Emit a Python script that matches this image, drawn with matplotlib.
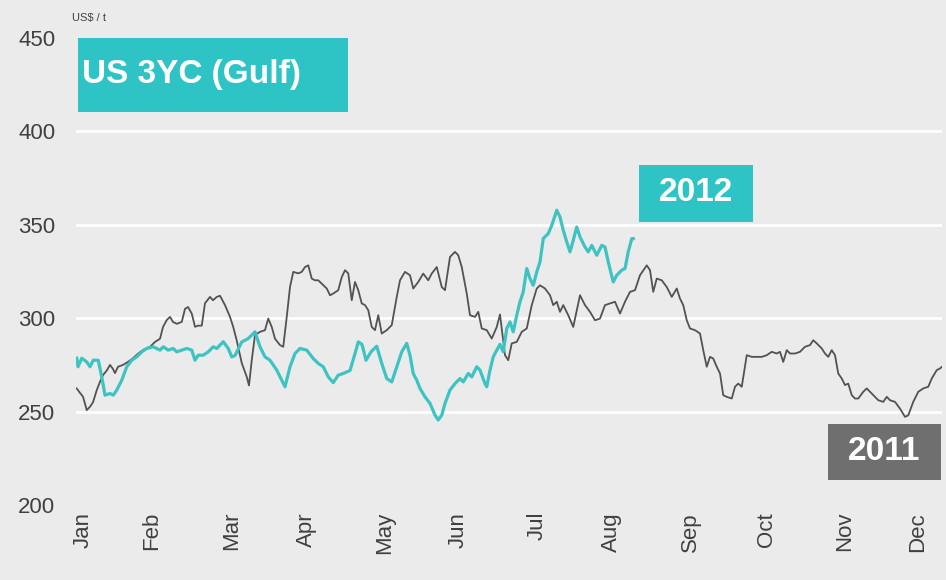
import matplotlib
matplotlib.use("Agg")
import matplotlib.pyplot as plt
from matplotlib.patches import Rectangle

plt.rcParams['font.family'] = ['Liberation Sans', 'DejaVu Sans']

# day index (0 = first trading day in Jan) and price, US$/t
days_2011 = [0.3, 1.6, 2.8, 4.3, 5.6, 6.8, 8.3, 9.6, 10.8, 12.3, 13.6, 14.7, 15.6, 16.8,
             18.8, 20.8, 22.8, 24.8, 26.8, 29.6, 31.6, 33.6, 34.8, 36.3, 37.6, 38.8, 40.3,
             42.3, 43.6, 44.8, 46.3, 47.6, 48.8, 50.3, 51.6, 53.6, 54.8, 56.3, 57.6, 59.6,
             61.6, 62.9, 64.3, 66.3, 68.3, 69.2, 70.3, 71.6, 73.6, 75.6, 76.9, 78.3, 79.6,
             81.6, 82.9, 84.3, 85.6, 86.9, 88.9, 90.3, 91.6, 92.9, 94.3, 95.6, 96.9, 98.3,
             100.3, 101.6, 102.9, 104.9, 106.3, 107.6, 108.9, 110.3, 111.6, 112.9, 114.3,
             115.6, 116.9, 118.3, 119.6, 120.9, 122.3, 124.3, 126.3, 128.3, 129.6, 131.6,
             133.6, 134.9, 136.9, 138.9, 140.9, 142.3, 144.3, 146.3, 147.6, 149.6, 151.6,
             152.9, 154.3, 156.3, 157.6, 159.6, 160.9, 162.3, 164.3, 166.3, 168.3, 169.6,
             171.6, 172.9, 174.3, 176.3, 178.3, 180.3, 182.3, 184.3, 185.6, 187.6, 189.6,
             190.9, 192.3, 193.6, 194.9, 196.9, 198.9, 201.6, 203.6, 205.6, 207.6, 209.6,
             211.6, 213.6, 215.6, 217.6, 219.6, 221.6, 223.6, 225.6, 228.3, 229.6, 230.9,
             232.3, 234.3, 236.3, 238.3, 240.3, 241.6, 242.9, 244.3, 245.6, 247.6, 249.6,
             250.9, 252.3, 253.6, 254.9, 256.3, 257.6, 258.9, 260.3, 262.3, 263.6, 264.9,
             266.3, 268.3, 270.3, 272.3, 274.3, 276.3, 278.3, 280.3, 281.6, 282.9, 284.3,
             285.6, 287.6, 289.6, 291.6, 293.6, 294.9, 296.3, 298.3, 299.6, 300.9, 302.3,
             303.6, 304.9, 306.3, 307.6, 308.9, 310.3, 311.6, 312.9, 314.9, 316.3, 317.6,
             319.6, 320.9, 322.9, 324.3, 325.6, 327.6, 329.6, 331.6, 332.9, 334.9, 336.9,
             338.9, 340.9, 342.3, 344.3, 345.6, 346.3]
price_2011 = [262.4, 260, 258, 250.8, 252.6, 255, 261.5, 266, 269.5, 272, 275, 273, 270.6, 274,
              275, 276.6, 278.6, 281, 283, 284.7, 287.3, 289, 295.3, 299, 300.7, 298, 297,
              298, 305, 306, 302.5, 295.4, 296, 296, 308, 311.4, 309.6, 311.4, 312, 307,
              300.7, 295.3, 288, 276, 268.6, 264, 277.5, 291, 292.7, 293.6, 299.8, 295.3, 289,
              285.6, 284.7, 300.7, 316.7, 324.8, 324, 324.8, 327.4, 328.3, 321.2, 320.3, 320.3, 318.5,
              315.9, 312.3, 313.2, 315, 322, 325.7, 324, 309.6, 319.4, 315, 307.9,
              307, 304.3, 295.3, 293.6, 301.6, 291.8, 293.6, 296.3, 311.4, 320.3, 324.8,
              323, 315.9, 319.4, 323.9, 320.3, 323.9, 327.4, 316.7, 315, 332.8, 335.5,
              333.7, 327.4, 313.2, 301.6, 300.7, 303.4, 294.5, 293.6, 289.1, 295.3, 302,
              280.2, 277.5, 286.5, 287.3, 292.7, 294.5, 307, 315.9, 317.6, 315.9, 312.3,
              307, 308.8, 303.4, 307, 301.6, 295.3, 312.3, 307, 303.4, 298.9, 299.8,
              307, 307.9, 308.8, 302.5, 308.8, 314.1, 315, 323, 328.3, 325.7, 314.1,
              321.2, 320.3, 316.7, 311.4, 315.9, 310.5, 307, 298.9, 294.5, 293.6, 291.8,
              282.9, 274, 279.3, 278.4, 274, 270.4, 258.8, 257.9, 257, 263.3, 265,
              263.3, 280.2, 279.3, 279.3, 279.3, 280.2, 282, 281.1, 282, 276.6, 282.9,
              281.1, 281.1, 282, 284.7, 285.6, 288.2, 286.5, 283.8, 281.1, 279.3, 282.9,
              280.2, 270.4, 267.7, 264.2, 265, 258.8, 257, 257, 260.6, 262.4, 260.6,
              257.9, 256.1, 255.2, 257.9, 256.1, 255.2, 251.6, 247.2, 248, 255.2, 260.6,
              262.4, 263.3, 267.7, 272.2, 273.1, 273.9]

days_2012 = [0.3, 0.8, 2.3, 4.3, 5.6, 6.9, 8.9, 10.3, 11.6, 13.6, 14.9, 16.3, 18.3, 20.3,
             22.3, 24.3, 26.3, 28.3, 30.9, 33.6, 34.9, 36.9, 38.9, 40.3, 42.3, 44.3, 46.3,
             47.6, 48.9, 50.9, 52.9, 54.9, 56.3, 57.6, 58.9, 60.9, 62.3, 63.6, 66.3, 68.9,
             71.6, 73.6, 75.6, 77.6, 80.3, 82.3, 83.6, 85.6, 87.6, 89.6, 92.3, 94.9, 96.9,
             98.9, 100.9, 102.9, 104.9, 106.9, 109.6, 111.6, 112.9, 114.4, 116.0, 118.0,
             120.3, 122.3, 124.3, 126.3, 128.3, 130.3, 132.3, 133.6, 134.9, 136.3, 137.6,
             139.6, 141.6, 143.6, 144.9, 146.3, 147.6, 149.6, 151.6, 153.6, 154.9, 156.9,
             158.3, 160.3, 161.6, 163.6, 164.3, 165.6, 166.9, 168.3, 169.6, 170.9, 172.3,
             173.6, 174.9, 176.3, 177.6, 178.9, 180.3, 181.6, 182.9, 184.3, 185.6, 186.9,
             188.9, 190.3, 192.3, 193.6, 194.9, 196.3, 197.6, 198.9, 200.3, 201.6, 203.6,
             204.9, 206.3, 208.3, 210.3, 211.6, 212.9, 214.9, 216.3, 218.3, 219.6, 220.9,
             222.3, 222.9]
price_2012 = [278.6, 274, 278.6, 276.6, 274, 277.5, 277.5, 268.6, 258.8, 259.7, 258.8, 261.5, 266.8, 274,
              277.5, 279.3, 282, 283.8, 284.7, 282.9, 284.7, 282.9, 283.8, 282, 282.9, 283.8, 282.9,
              277.5, 280.2, 280.2, 282, 284.7, 283.8, 285.6, 287.4, 283.8, 279.3, 280, 287.3, 289.1,
              292.7, 284.7, 279.3, 277.5, 272.2, 266.8, 263.3, 274, 281.1, 283.8, 282.9, 278.4, 275.8,
              274, 268.6, 265.5, 269.5, 270.4, 272, 281, 287.3, 286, 277.5, 282,
              285, 275.8, 267.7, 265.9, 274, 282, 286.5, 280.2, 270.4, 266.8, 262.4,
              257.9, 254.4, 248.1, 245.5, 248.1, 254.4, 261.5, 265, 267.7, 265.9, 270.4,
              268.6, 274, 272.2, 265, 263.3, 272.2, 279.3, 282.9, 286, 282, 294.5,
              298, 292.7, 301.6, 308.8, 314.1, 326.6, 321.2, 317.6, 324.8, 330.1, 342.6,
              345.3, 349.7, 357.8, 354.2, 347.1, 340.8, 335.5, 341.7, 348.8, 343.5, 338.1,
              335.5, 339, 333.7, 339, 338.1, 330.1, 319.4, 323, 325.7, 326.6, 335.5,
              342.6, 342.6]

months = ['Jan', 'Feb', 'Mar', 'Apr', 'May', 'Jun', 'Jul', 'Aug', 'Sep', 'Oct', 'Nov', 'Dec']
month_ticks = [2.8, 30.4, 62.4, 92, 123.6, 152.8, 184.4, 214, 245.6, 276, 307.6, 336.8]
y_ticks = [200, 250, 300, 350, 400, 450]

BG = '#ebebeb'
TEAL = '#2ec4c6'
LINE_TEAL = '#3ec3c3'
DARK = '#525252'
GREY_BOX = '#6f6f6f'

W, H = 946, 580
fig = plt.figure(figsize=(W / 100, H / 100), dpi=100, facecolor=BG)
ax = fig.add_axes([76 / W, 1 - 505 / H, 866 / W, 467 / H], facecolor=BG)

ax.plot(days_2011, price_2011, color=DARK, lw=1.3, zorder=3)
ax.plot(days_2012, price_2012, color=LINE_TEAL, lw=2.3, zorder=4, solid_joinstyle='round')

ax.set_xlim(0, 346.4)
ax.set_ylim(200, 450)
ax.set_yticks(y_ticks)
ax.set_xticks(month_ticks)
ax.set_xticklabels(months, rotation=90)
ax.tick_params(axis='both', length=0, labelsize=16, labelcolor='#404040')
ax.tick_params(axis='y', pad=15)
ax.tick_params(axis='x', pad=5)
ax.grid(axis='y', color='white', lw=2, zorder=1)
gl = ax.yaxis.get_gridlines()
gl[0].set_visible(False)
gl[-1].set_visible(False)
for s in ax.spines.values():
    s.set_visible(False)


def px_box(x0, y0, x1, y1, color):
    # rectangle given in pixel coords measured from the top-left corner
    fig.add_artist(Rectangle((x0 / W, 1 - y1 / H), (x1 - x0) / W, (y1 - y0) / H,
                             transform=fig.transFigure, facecolor=color,
                             edgecolor='none', zorder=5))


px_box(78, 38, 348, 112, TEAL)
fig.text(82 / W, 1 - 75 / H, 'US 3YC (Gulf)', color='white', fontsize=24,
         fontweight='bold', ha='left', va='center', zorder=6)

px_box(639, 165, 753, 222, TEAL)
fig.text(696 / W, 1 - 193 / H, '2012', color='white', fontsize=24,
         fontweight='bold', ha='center', va='center', zorder=6)

px_box(828, 424, 941, 480, GREY_BOX)
fig.text(884 / W, 1 - 452 / H, '2011', color='white', fontsize=24,
         fontweight='bold', ha='center', va='center', zorder=6)

fig.text(72 / W, 1 - 18 / H, 'US$ / t', color='#404040', fontsize=8,
         ha='left', va='center')

fig.savefig('out.png', dpi=100, facecolor=BG)
